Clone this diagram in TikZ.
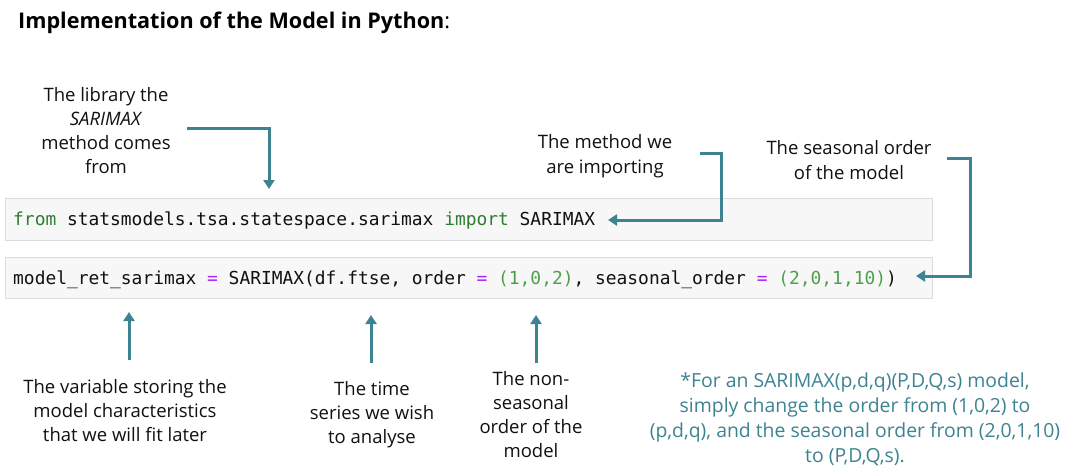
\documentclass[tikz,border=0pt]{standalone}
\usepackage{fontspec}
\setmainfont{Open Sans}
\setmonofont{DejaVu Sans Mono}
\usetikzlibrary{arrows.meta}
\definecolor{teal1}{HTML}{3E8392}
\definecolor{kwgreen}{HTML}{2E7D32}
\definecolor{numgreen}{HTML}{4CA04C}
\definecolor{eqpurple}{HTML}{AA22FF}
\definecolor{codebg}{HTML}{F7F7F7}
\definecolor{codeline}{HTML}{DCDCDC}
\definecolor{txt}{HTML}{111111}
\tikzset{
  lbl/.style={align=center, text=txt, font=\fontsize{18.5}{24}\selectfont, inner sep=0pt},
  codebox/.style={fill=codebg, draw=codeline, line width=1pt},
  codetxt/.style={anchor=base west, inner sep=0pt, text=txt, font=\ttfamily\fontsize{17.9}{20}\selectfont},
  conn/.style={draw=teal1, line width=3pt, -{Triangle[width=11pt,length=9pt]}},
}
\newcommand{\kw}[1]{\textcolor{kwgreen}{#1}}
\newcommand{\nm}[1]{\textcolor{numgreen}{#1}}
\newcommand{\eqp}{\textcolor{eqpurple}{=}}
\begin{document}
\begin{tikzpicture}[x=1pt,y=-1pt]
\useasboundingbox (0,0) rectangle (1070,476);
\fill[white] (0,0) rectangle (1070,476);

% title
\node[anchor=base west, inner sep=0pt, text=black, font=\fontsize{21.6}{24}\selectfont] (title) at (18,29) {\textbf{Implementation of the Model in Python}:};

% code boxes
\node[codebox, minimum width=927pt, minimum height=42pt, anchor=north west, inner sep=0pt] (box1) at (5,198) {};
\node[codebox, minimum width=927pt, minimum height=41pt, anchor=north west, inner sep=0pt] (box2) at (5,257) {};

\node[codetxt] (code1) at (13,225.5) {\kw{from} statsmodels.tsa.statespace.sarimax \kw{import} SARIMAX};
\node[codetxt] (code2) at (13,284) {model\_ret\_sarimax \eqp{} SARIMAX(df.ftse, order \eqp{} \nm{(1,0,2)}, seasonal\_order \eqp{} \nm{(2,0,1,10)})};

% top labels
\node[lbl] (lib) at (106,131) {The library the\\\textit{SARIMAX}\\method comes\\from};
\node[lbl, font=\fontsize{18.5}{25}\selectfont] (meth) at (605,156) {The method we\\are importing};
\node[lbl, font=\fontsize{18.5}{25}\selectfont] (seas) at (849,160) {The seasonal order\\of the model};

% bottom labels
\node[lbl] (var) at (125,411) {The variable storing the\\model characteristics\\that we will fit later};
\node[lbl] (ts) at (372,415) {The time\\series we wish\\to analyse};
\node[lbl] (ns) at (531,415) {The non-\\seasonal\\order of the\\model};
\node[lbl, text=teal1, font=\fontsize{19.4}{25}\selectfont] (note) at (855,419.5) {*For an SARIMAX(p,d,q)(P,D,Q,s) model,\\simply change the order from (1,0,2) to\\(p,d,q), and the seasonal order from (2,0,1,10)\\to (P,D,Q,s).};

% connector coordinates
\coordinate (libS) at (187,129);
\coordinate (libT) at (269,189);
\coordinate (methS) at (700,153);
\coordinate (methC) at (721,220);
\coordinate (methT) at (608,220);
\coordinate (seasS) at (947,158);
\coordinate (seasC) at (970,276);
\coordinate (seasT) at (916,276);
\coordinate (varS) at (129,360);
\coordinate (varT) at (129,312);
\coordinate (tsS) at (371,363);
\coordinate (tsT) at (371,315);
\coordinate (nsS) at (536,363);
\coordinate (nsT) at (536,315);

\draw[conn] (libS) -| (libT);
\draw[conn] (methS) -| (methC) -- (methT);
\draw[conn] (seasS) -| (seasC) -- (seasT);
\draw[conn] (varS) -- (varT);
\draw[conn] (tsS) -- (tsT);
\draw[conn] (nsS) -- (nsT);
\end{tikzpicture}
\end{document}
